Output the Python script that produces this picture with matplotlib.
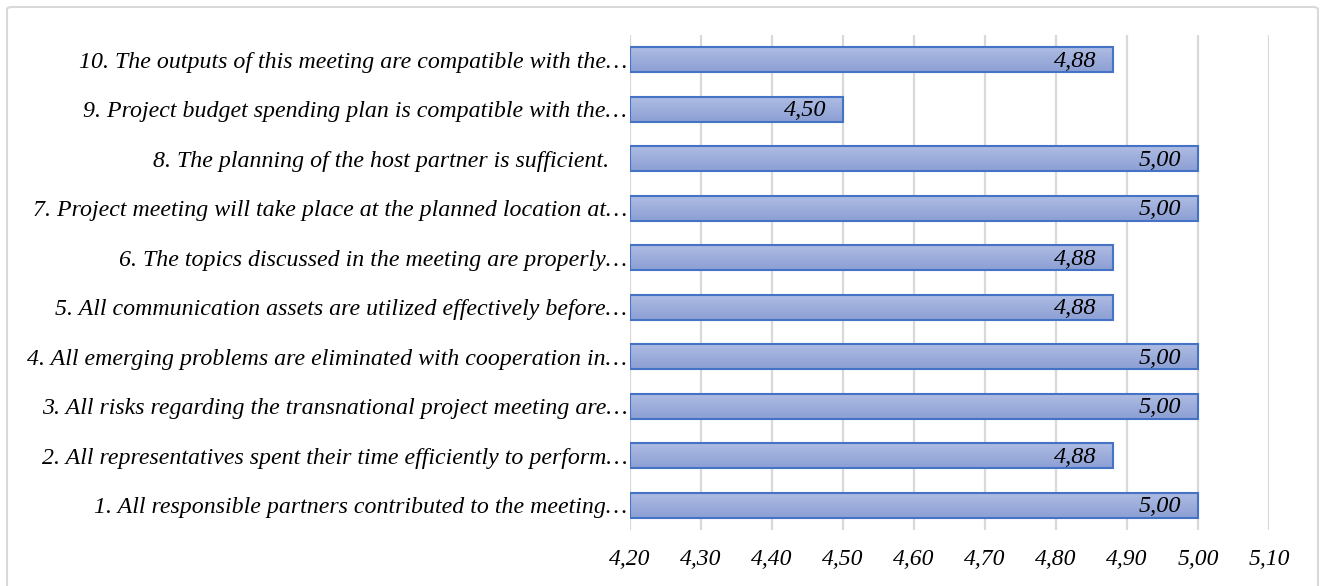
import numpy as np
import matplotlib.pyplot as plt
from matplotlib.patches import Rectangle, FancyBboxPatch
from matplotlib.colors import LinearSegmentedColormap

# survey items (bottom to top) and their mean scores
items = [
    "1. All responsible partners contributed to the meeting…",
    "2. All representatives spent their time efficiently to perform…",
    "3. All risks regarding the transnational project meeting are…",
    "4. All emerging problems are eliminated with cooperation in…",
    "5. All communication assets are utilized effectively before…",
    "6. The topics discussed in the meeting are properly…",
    "7. Project meeting will take place at the planned location at…",
    "8. The planning of the host partner is sufficient.   ",
    "9. Project budget spending plan is compatible with the…",
    "10. The outputs of this meeting are compatible with the…",
]
scores = [5.00, 4.88, 5.00, 5.00, 4.88, 4.88, 5.00, 5.00, 4.50, 4.88]
x_ticks = [4.20, 4.30, 4.40, 4.50, 4.60, 4.70, 4.80, 4.90, 5.00, 5.10]

plt.rcParams['font.family'] = ['Liberation Serif', 'DejaVu Serif']

fig = plt.figure(figsize=(13.21, 5.86), dpi=100)
# light outer frame
frame = FancyBboxPatch((7 / 1321, -0.05), 1311 / 1321, 1.05 - 7 / 586,
                       boxstyle="round,pad=0,rounding_size=0.004",
                       transform=fig.transFigure, fill=False,
                       edgecolor='#d9d9d9', linewidth=1.5)
fig.patches.append(frame)

ax = fig.add_axes([630 / 1321, 1 - 530 / 586, 639 / 1321, 495 / 586])
ax.set_xlim(4.20, 5.10)
ax.set_ylim(-0.5, len(items) - 0.5)

for x in x_ticks:
    ax.axvline(x, color='#d9d9d9', linewidth=1.6, zorder=0)

grad = LinearSegmentedColormap.from_list('bar', ['#aebce3', '#8c9fd4'])
gimg = np.linspace(0, 1, 64).reshape(-1, 1)
h = 0.5
for i, v in enumerate(scores):
    rect = Rectangle((4.20, i - h / 2), v - 4.20, h, facecolor='none',
                     edgecolor='#4472c4', linewidth=1.5, zorder=3)
    ax.add_patch(rect)
    im = ax.imshow(gimg, cmap=grad, aspect='auto', zorder=2,
                   extent=(4.20, v, i - h / 2, i + h / 2), origin='upper')
    im.set_clip_path(rect)
    ax.annotate(f"{v:.2f}".replace('.', ','), xy=(v, i), xytext=(-12, -1),
                textcoords='offset points', ha='right', va='center',
                fontsize=17.5, style='italic', zorder=4)

ax.set_xticks(x_ticks)
ax.set_xticklabels([f"{t:.2f}".replace('.', ',') for t in x_ticks],
                   fontsize=17, style='italic')
ax.set_yticks(range(len(items)))
ax.set_yticklabels(items, fontsize=17.2, style='italic')
ax.tick_params(axis='both', length=0)
ax.tick_params(axis='x', pad=14)
ax.tick_params(axis='y', pad=2)
for s in ax.spines.values():
    s.set_visible(False)

fig.savefig('out.png', dpi=100)
